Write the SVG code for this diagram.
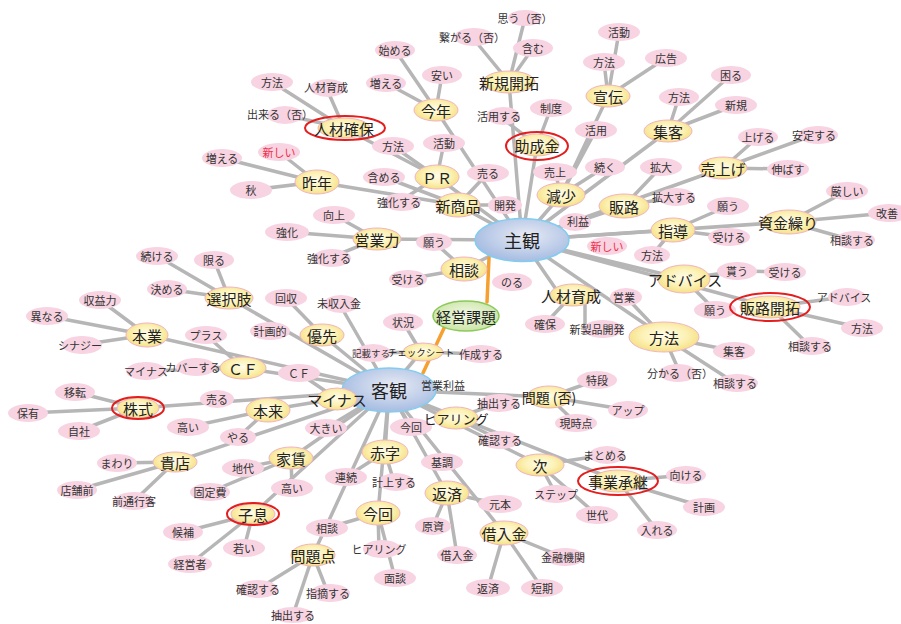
<svg xmlns="http://www.w3.org/2000/svg" width="901" height="624" viewBox="0 0 901 624">
<defs>
<radialGradient id="gy" cx="50%" cy="45%" r="60%"><stop offset="0" stop-color="#fffcea"/><stop offset="0.55" stop-color="#fcf1b4"/><stop offset="1" stop-color="#f4dc78"/></radialGradient>
<radialGradient id="gb" cx="55%" cy="40%" r="60%"><stop offset="0" stop-color="#e8ebf4"/><stop offset="1" stop-color="#a6bce2"/></radialGradient>
<radialGradient id="gg" cx="50%" cy="45%" r="60%"><stop offset="0" stop-color="#f2f9e6"/><stop offset="1" stop-color="#c6e3a0"/></radialGradient>
<style>
text{font-family:"Noto Sans CJK JP","Noto Sans CJK SC",sans-serif;text-anchor:middle;dominant-baseline:central;fill:#333}
#edges line{stroke:#b6b6b6;stroke-width:3.5;stroke-linecap:round}
#orange line{stroke:#f5a030;stroke-width:3.5;stroke-linecap:round}
.p ellipse{fill:#f8d3e2}
.p text{font-size:11px}
.y ellipse{fill:url(#gy);stroke:#f0b4c4;stroke-width:1}
.y text{font-size:15px;fill:#222}
.c ellipse{fill:url(#gb);stroke:#80cdf0;stroke-width:1.5}
.c text{font-size:18px;fill:#222}
.g ellipse{fill:url(#gg);stroke:#8cc85a;stroke-width:1.5}
.g text{font-size:15px;fill:#222}
.y ellipse.r{fill:none;stroke:#e41e1e;stroke-width:2}
.red{fill:#f0304a}
.s{font-size:9.5px!important}
</style>
</defs>
<rect width="901" height="624" fill="#ffffff"/>
<g id="edges">
<line x1="522" y1="240" x2="509" y2="82"/>
<line x1="522" y1="240" x2="537" y2="145"/>
<line x1="522" y1="240" x2="561" y2="195"/>
<line x1="522" y1="240" x2="668" y2="131"/>
<line x1="522" y1="240" x2="624" y2="206"/>
<line x1="522" y1="240" x2="723" y2="168"/>
<line x1="522" y1="240" x2="788" y2="222"/>
<line x1="522" y1="240" x2="673" y2="230"/>
<line x1="522" y1="240" x2="684" y2="279"/>
<line x1="522" y1="240" x2="770" y2="307"/>
<line x1="522" y1="240" x2="664" y2="337"/>
<line x1="522" y1="240" x2="560" y2="295"/>
<line x1="522" y1="240" x2="464" y2="269"/>
<line x1="522" y1="240" x2="377" y2="239"/>
<line x1="522" y1="240" x2="458" y2="205"/>
<line x1="522" y1="240" x2="437" y2="177"/>
<line x1="522" y1="240" x2="436" y2="110"/>
<line x1="608" y1="96" x2="561" y2="195"/>
<line x1="596" y1="130" x2="561" y2="195"/>
<line x1="555" y1="172" x2="561" y2="195"/>
<line x1="605" y1="167" x2="561" y2="195"/>
<line x1="509" y1="82" x2="472" y2="37"/>
<line x1="509" y1="82" x2="533" y2="48"/>
<line x1="509" y1="82" x2="525" y2="18"/>
<line x1="537" y1="145" x2="499" y2="116"/>
<line x1="537" y1="145" x2="551" y2="108"/>
<line x1="608" y1="96" x2="619" y2="32"/>
<line x1="608" y1="96" x2="604" y2="62"/>
<line x1="608" y1="96" x2="666" y2="58"/>
<line x1="668" y1="131" x2="679" y2="97"/>
<line x1="668" y1="131" x2="731" y2="75"/>
<line x1="668" y1="131" x2="736" y2="105"/>
<line x1="624" y1="206" x2="661" y2="167"/>
<line x1="624" y1="206" x2="674" y2="197"/>
<line x1="723" y1="168" x2="758" y2="137"/>
<line x1="723" y1="168" x2="814" y2="135"/>
<line x1="723" y1="168" x2="788" y2="169"/>
<line x1="673" y1="230" x2="728" y2="206"/>
<line x1="673" y1="230" x2="729" y2="237"/>
<line x1="673" y1="230" x2="652" y2="255"/>
<line x1="788" y1="222" x2="847" y2="191"/>
<line x1="788" y1="222" x2="888" y2="213"/>
<line x1="788" y1="222" x2="852" y2="240"/>
<line x1="684" y1="279" x2="737" y2="271"/>
<line x1="737" y1="271" x2="785" y2="272"/>
<line x1="684" y1="279" x2="715" y2="310"/>
<line x1="770" y1="307" x2="844" y2="297"/>
<line x1="770" y1="307" x2="862" y2="328"/>
<line x1="770" y1="307" x2="810" y2="346"/>
<line x1="664" y1="337" x2="626" y2="297"/>
<line x1="664" y1="337" x2="734" y2="351"/>
<line x1="664" y1="337" x2="680" y2="373"/>
<line x1="664" y1="337" x2="735" y2="383"/>
<line x1="572" y1="295" x2="545" y2="324"/>
<line x1="585" y1="295" x2="585" y2="329"/>
<line x1="464" y1="269" x2="434" y2="242"/>
<line x1="464" y1="269" x2="408" y2="279"/>
<line x1="377" y1="239" x2="334" y2="215"/>
<line x1="377" y1="239" x2="287" y2="232"/>
<line x1="377" y1="239" x2="329" y2="258"/>
<line x1="458" y1="205" x2="505" y2="205"/>
<line x1="458" y1="205" x2="488" y2="173"/>
<line x1="458" y1="205" x2="384" y2="177"/>
<line x1="458" y1="205" x2="317" y2="182"/>
<line x1="437" y1="177" x2="393" y2="146"/>
<line x1="437" y1="177" x2="444" y2="143"/>
<line x1="437" y1="177" x2="399" y2="202"/>
<line x1="437" y1="177" x2="344" y2="128"/>
<line x1="436" y1="110" x2="395" y2="50"/>
<line x1="436" y1="110" x2="386" y2="83"/>
<line x1="436" y1="110" x2="442" y2="75"/>
<line x1="344" y1="128" x2="272" y2="82"/>
<line x1="344" y1="128" x2="326" y2="87"/>
<line x1="344" y1="128" x2="280" y2="114"/>
<line x1="317" y1="182" x2="279" y2="152"/>
<line x1="317" y1="182" x2="222" y2="158"/>
<line x1="317" y1="182" x2="251" y2="190"/>
<line x1="389" y1="390" x2="322" y2="335"/>
<line x1="389" y1="390" x2="339" y2="303"/>
<line x1="389" y1="390" x2="229" y2="298"/>
<line x1="389" y1="390" x2="243" y2="368"/>
<line x1="389" y1="390" x2="147" y2="335"/>
<line x1="389" y1="390" x2="337" y2="399"/>
<line x1="389" y1="390" x2="138" y2="408"/>
<line x1="389" y1="390" x2="268" y2="410"/>
<line x1="389" y1="390" x2="175" y2="462"/>
<line x1="389" y1="390" x2="291" y2="458"/>
<line x1="389" y1="390" x2="253" y2="514"/>
<line x1="389" y1="390" x2="326" y2="428"/>
<line x1="389" y1="390" x2="385" y2="452"/>
<line x1="389" y1="390" x2="378" y2="513"/>
<line x1="389" y1="390" x2="313" y2="555"/>
<line x1="389" y1="390" x2="411" y2="427"/>
<line x1="389" y1="390" x2="447" y2="493"/>
<line x1="389" y1="390" x2="504" y2="533"/>
<line x1="389" y1="390" x2="456" y2="418"/>
<line x1="389" y1="390" x2="540" y2="465"/>
<line x1="389" y1="390" x2="618" y2="481"/>
<line x1="389" y1="390" x2="549" y2="397"/>
<line x1="389" y1="390" x2="421" y2="352"/>
<line x1="322" y1="335" x2="286" y2="298"/>
<line x1="229" y1="298" x2="157" y2="256"/>
<line x1="229" y1="298" x2="214" y2="260"/>
<line x1="229" y1="298" x2="167" y2="289"/>
<line x1="147" y1="335" x2="100" y2="300"/>
<line x1="147" y1="335" x2="47" y2="316"/>
<line x1="147" y1="335" x2="80" y2="345"/>
<line x1="243" y1="368" x2="206" y2="335"/>
<line x1="243" y1="368" x2="193" y2="367"/>
<line x1="243" y1="368" x2="146" y2="371"/>
<line x1="299" y1="373" x2="337" y2="399"/>
<line x1="138" y1="408" x2="75" y2="392"/>
<line x1="138" y1="408" x2="28" y2="413"/>
<line x1="138" y1="408" x2="79" y2="431"/>
<line x1="268" y1="410" x2="188" y2="427"/>
<line x1="268" y1="410" x2="238" y2="437"/>
<line x1="175" y1="462" x2="117" y2="463"/>
<line x1="175" y1="462" x2="77" y2="490"/>
<line x1="175" y1="462" x2="134" y2="501"/>
<line x1="291" y1="458" x2="243" y2="468"/>
<line x1="291" y1="458" x2="210" y2="492"/>
<line x1="291" y1="458" x2="292" y2="488"/>
<line x1="253" y1="514" x2="183" y2="532"/>
<line x1="253" y1="514" x2="244" y2="548"/>
<line x1="253" y1="514" x2="190" y2="564"/>
<line x1="385" y1="452" x2="346" y2="477"/>
<line x1="385" y1="452" x2="394" y2="482"/>
<line x1="378" y1="513" x2="327" y2="528"/>
<line x1="378" y1="513" x2="379" y2="549"/>
<line x1="378" y1="513" x2="395" y2="578"/>
<line x1="313" y1="555" x2="258" y2="589"/>
<line x1="313" y1="555" x2="328" y2="593"/>
<line x1="313" y1="555" x2="293" y2="615"/>
<line x1="447" y1="493" x2="500" y2="504"/>
<line x1="447" y1="493" x2="433" y2="526"/>
<line x1="447" y1="493" x2="457" y2="555"/>
<line x1="504" y1="533" x2="488" y2="588"/>
<line x1="504" y1="533" x2="542" y2="588"/>
<line x1="504" y1="533" x2="563" y2="557"/>
<line x1="456" y1="418" x2="500" y2="440"/>
<line x1="456" y1="418" x2="499" y2="403"/>
<line x1="540" y1="465" x2="605" y2="455"/>
<line x1="540" y1="465" x2="556" y2="494"/>
<line x1="540" y1="465" x2="597" y2="515"/>
<line x1="618" y1="481" x2="686" y2="475"/>
<line x1="618" y1="481" x2="704" y2="507"/>
<line x1="618" y1="481" x2="657" y2="530"/>
<line x1="549" y1="397" x2="597" y2="380"/>
<line x1="549" y1="397" x2="628" y2="410"/>
<line x1="549" y1="397" x2="576" y2="423"/>
<line x1="421" y1="352" x2="403" y2="322"/>
<line x1="421" y1="352" x2="371" y2="353"/>
<line x1="421" y1="352" x2="481" y2="354"/>
</g>
<g id="orange">
<line x1="489" y1="258" x2="487" y2="302"/>
<line x1="423" y1="373" x2="445" y2="326"/>
</g>
<g id="nodes">
<g id="n-shukan" class="c"><ellipse cx="522" cy="240" rx="47" ry="21.5"/><text x="522" y="240">主観</text></g>
<g id="n-kyakkan" class="c"><ellipse cx="389" cy="390" rx="47" ry="22"/><text x="389" y="390">客観</text></g>
<g id="n-keieikadai" class="g"><ellipse cx="466" cy="316" rx="33" ry="15"/><text x="466" y="316">経営課題</text></g>
<g id="n-eigyourieki"><text x="443" y="385" style="font-size:11px">営業利益</text></g>

<g id="n-omou" class="p"><ellipse cx="525" cy="18" rx="17" ry="8"/><text x="525" y="18">思う（否）</text></g>
<g id="n-tsunagaru" class="p"><ellipse cx="474" cy="37" rx="20" ry="9"/><text x="472" y="37">繋がる（否）</text></g>
<g id="n-fukumu" class="p"><ellipse cx="533" cy="48" rx="20" ry="9"/><text x="533" y="48">含む</text></g>
<g id="n-katsuyousuru" class="p"><ellipse cx="503" cy="116" rx="17" ry="9"/><text x="499" y="116">活用する</text></g>
<g id="n-seido" class="p"><ellipse cx="551" cy="108" rx="21" ry="9"/><text x="551" y="108">制度</text></g>
<g id="n-katsudou1" class="p"><ellipse cx="619" cy="32" rx="21" ry="9"/><text x="619" y="32">活動</text></g>
<g id="n-houhou1" class="p"><ellipse cx="604" cy="62" rx="21" ry="9"/><text x="604" y="62">方法</text></g>
<g id="n-koukoku" class="p"><ellipse cx="666" cy="58" rx="21" ry="9"/><text x="666" y="58">広告</text></g>
<g id="n-katsuyou" class="p"><ellipse cx="596" cy="130" rx="21" ry="9"/><text x="596" y="130">活用</text></g>
<g id="n-uriage" class="p"><ellipse cx="555" cy="172" rx="22" ry="9"/><text x="555" y="172">売上</text></g>
<g id="n-tsuduku" class="p"><ellipse cx="605" cy="167" rx="20" ry="9"/><text x="605" y="167">続く</text></g>
<g id="n-kakudai" class="p"><ellipse cx="661" cy="167" rx="21" ry="9"/><text x="661" y="167">拡大</text></g>
<g id="n-kakudaisuru" class="p"><ellipse cx="676" cy="197" rx="19" ry="9"/><text x="674" y="197">拡大する</text></g>
<g id="n-houhou2" class="p"><ellipse cx="679" cy="97" rx="20" ry="9"/><text x="679" y="97">方法</text></g>
<g id="n-komaru" class="p"><ellipse cx="731" cy="75" rx="20" ry="9"/><text x="731" y="75">困る</text></g>
<g id="n-shinki" class="p"><ellipse cx="736" cy="105" rx="21" ry="9"/><text x="736" y="105">新規</text></g>
<g id="n-ageru" class="p"><ellipse cx="758" cy="137" rx="20" ry="9"/><text x="758" y="137">上げる</text></g>
<g id="n-antei" class="p"><ellipse cx="818" cy="135" rx="20" ry="9"/><text x="814" y="135">安定する</text></g>
<g id="n-nobasu" class="p"><ellipse cx="788" cy="169" rx="21" ry="9"/><text x="788" y="169">伸ばす</text></g>
<g id="n-kibishii" class="p"><ellipse cx="847" cy="191" rx="21" ry="9"/><text x="847" y="191">厳しい</text></g>
<g id="n-negau1" class="p"><ellipse cx="728" cy="206" rx="21" ry="9"/><text x="728" y="206">願う</text></g>
<g id="n-kaizen" class="p"><ellipse cx="889" cy="213" rx="21" ry="9"/><text x="887" y="213">改善</text></g>
<g id="n-soudansuru1" class="p"><ellipse cx="855" cy="240" rx="20" ry="9"/><text x="852" y="240">相談する</text></g>
<g id="n-ukeru1" class="p"><ellipse cx="729" cy="237" rx="21" ry="9"/><text x="729" y="237">受ける</text></g>
<g id="n-houhou3" class="p"><ellipse cx="652" cy="255" rx="18" ry="9"/><text x="652" y="255">方法</text></g>
<g id="n-atarashii1" class="p"><ellipse cx="607" cy="246" rx="20" ry="9"/><text class="red" x="607" y="246">新しい</text></g>
<g id="n-rieki" class="p"><ellipse cx="575" cy="222" rx="16" ry="9"/><text x="578" y="221">利益</text></g>
<g id="n-morau" class="p"><ellipse cx="737" cy="271" rx="20" ry="9"/><text x="737" y="271">貰う</text></g>
<g id="n-ukeru2" class="p"><ellipse cx="785" cy="272" rx="21" ry="9"/><text x="785" y="272">受ける</text></g>
<g id="n-negau2" class="p"><ellipse cx="715" cy="310" rx="21" ry="9"/><text x="715" y="310">願う</text></g>
<g id="n-advice2" class="p"><ellipse cx="847" cy="297" rx="19" ry="9"/><text x="844" y="297">アドバイス</text></g>
<g id="n-houhou4" class="p"><ellipse cx="862" cy="328" rx="21" ry="9"/><text x="862" y="328">方法</text></g>
<g id="n-soudansuru2" class="p"><ellipse cx="812" cy="346" rx="19" ry="9"/><text x="810" y="346">相談する</text></g>
<g id="n-eigyou" class="p"><ellipse cx="626" cy="297" rx="16" ry="9"/><text x="624" y="297">営業</text></g>
<g id="n-shukyaku2" class="p"><ellipse cx="734" cy="351" rx="21" ry="9"/><text x="734" y="351">集客</text></g>
<g id="n-wakaru" class="p"><ellipse cx="678" cy="373" rx="19" ry="9"/><text x="680" y="373">分かる（否）</text></g>
<g id="n-soudansuru3" class="p"><ellipse cx="737" cy="383" rx="21" ry="9"/><text x="735" y="383">相談する</text></g>
<g id="n-kakuho" class="p"><ellipse cx="545" cy="324" rx="20" ry="9"/><text x="545" y="324">確保</text></g>
<g id="n-shinseihin" class="p"><ellipse cx="603" cy="329" rx="20" ry="9"/><text x="597" y="329">新製品開発</text></g>
<g id="n-noru" class="p"><ellipse cx="512" cy="282" rx="20" ry="9"/><text x="512" y="282">のる</text></g>
<g id="n-ukeru3" class="p"><ellipse cx="408" cy="279" rx="19" ry="9"/><text x="408" y="279">受ける</text></g>
<g id="n-negau3" class="p"><ellipse cx="434" cy="242" rx="18" ry="9"/><text x="434" y="242">願う</text></g>
<g id="n-koujou" class="p"><ellipse cx="334" cy="215" rx="21" ry="9"/><text x="334" y="215">向上</text></g>
<g id="n-kyouka" class="p"><ellipse cx="287" cy="232" rx="22" ry="9"/><text x="287" y="232">強化</text></g>
<g id="n-kyoukasuru1" class="p"><ellipse cx="332" cy="258" rx="19" ry="9"/><text x="329" y="258">強化する</text></g>
<g id="n-kyoukasuru2" class="p"><ellipse cx="402" cy="202" rx="19" ry="9"/><text x="399" y="202">強化する</text></g>
<g id="n-kaihatsu" class="p"><ellipse cx="505" cy="205" rx="17" ry="9"/><text x="505" y="205">開発</text></g>
<g id="n-uru1" class="p"><ellipse cx="488" cy="173" rx="21" ry="9"/><text x="488" y="173">売る</text></g>
<g id="n-fukumeru" class="p"><ellipse cx="384" cy="177" rx="21" ry="9"/><text x="384" y="177">含める</text></g>
<g id="n-houhou5" class="p"><ellipse cx="393" cy="146" rx="21" ry="9"/><text x="393" y="146">方法</text></g>
<g id="n-katsudou2" class="p"><ellipse cx="444" cy="143" rx="21" ry="9"/><text x="444" y="143">活動</text></g>
<g id="n-fueru1" class="p"><ellipse cx="386" cy="83" rx="20" ry="9"/><text x="386" y="83">増える</text></g>
<g id="n-yasui" class="p"><ellipse cx="442" cy="75" rx="20" ry="9"/><text x="442" y="75">安い</text></g>
<g id="n-hajimeru" class="p"><ellipse cx="395" cy="50" rx="20" ry="9"/><text x="395" y="50">始める</text></g>
<g id="n-houhou6" class="p"><ellipse cx="272" cy="82" rx="21" ry="9"/><text x="272" y="82">方法</text></g>
<g id="n-jinzaiikusei2" class="p"><ellipse cx="328" cy="88" rx="18" ry="9"/><text x="326" y="87">人材育成</text></g>
<g id="n-dekiru" class="p"><ellipse cx="285" cy="115" rx="18" ry="9"/><text x="280" y="114">出来る（否）</text></g>
<g id="n-atarashii2" class="p"><ellipse cx="279" cy="152" rx="21" ry="9"/><text class="red" x="279" y="152">新しい</text></g>
<g id="n-fueru2" class="p"><ellipse cx="222" cy="158" rx="20" ry="9"/><text x="222" y="158">増える</text></g>
<g id="n-aki" class="p"><ellipse cx="251" cy="190" rx="21" ry="9"/><text x="251" y="190">秋</text></g>
<g id="n-tsudukeru" class="p"><ellipse cx="157" cy="256" rx="21" ry="9"/><text x="157" y="256">続ける</text></g>
<g id="n-kagiru" class="p"><ellipse cx="214" cy="260" rx="20" ry="9"/><text x="214" y="260">限る</text></g>
<g id="n-kimeru" class="p"><ellipse cx="167" cy="289" rx="20" ry="9"/><text x="167" y="289">決める</text></g>
<g id="n-shuuekiryoku" class="p"><ellipse cx="100" cy="300" rx="21" ry="9"/><text x="100" y="300">収益力</text></g>
<g id="n-kotonaru" class="p"><ellipse cx="47" cy="316" rx="21" ry="9"/><text x="47" y="316">異なる</text></g>
<g id="n-synergy" class="p"><ellipse cx="82" cy="345" rx="20" ry="9"/><text x="80" y="345">シナジー</text></g>
<g id="n-plus" class="p"><ellipse cx="206" cy="335" rx="21" ry="9"/><text x="206" y="335">プラス</text></g>
<g id="n-minus2" class="p"><ellipse cx="146" cy="371" rx="20" ry="9"/><text x="146" y="371">マイナス</text></g>
<g id="n-cover" class="p"><ellipse cx="196" cy="367" rx="20" ry="9"/><text x="193" y="367">カバーする</text></g>
<g id="n-kaishuu" class="p"><ellipse cx="286" cy="298" rx="21" ry="9"/><text x="286" y="298">回収</text></g>
<g id="n-mishuu" class="p"><ellipse cx="341" cy="304" rx="18" ry="9"/><text x="339" y="303">未収入金</text></g>
<g id="n-keikakuteki" class="p"><ellipse cx="270" cy="331" rx="20" ry="9"/><text x="270" y="331">計画的</text></g>
<g id="n-joukyou" class="p"><ellipse cx="403" cy="322" rx="20" ry="9"/><text x="403" y="322">状況</text></g>
<g id="n-kisai" class="p"><ellipse cx="373" cy="353" rx="18" ry="9"/><text class="s" x="371" y="353">記載する</text></g>
<g id="n-sakusei" class="p"><ellipse cx="481" cy="354" rx="21" ry="9"/><text x="481" y="354">作成する</text></g>
<g id="n-cf2" class="p"><ellipse cx="299" cy="373" rx="21" ry="9"/><text x="299" y="373">ＣＦ</text></g>
<g id="n-tokudan" class="p"><ellipse cx="597" cy="380" rx="20" ry="9"/><text x="597" y="380">特段</text></g>
<g id="n-chuushutsu1" class="p"><ellipse cx="499" cy="403" rx="20" ry="9"/><text x="499" y="403">抽出する</text></g>
<g id="n-up" class="p"><ellipse cx="628" cy="410" rx="20" ry="9"/><text x="628" y="410">アップ</text></g>
<g id="n-genjiten" class="p"><ellipse cx="576" cy="423" rx="21" ry="9"/><text x="576" y="423">現時点</text></g>
<g id="n-konkai2" class="p"><ellipse cx="411" cy="427" rx="21" ry="9"/><text x="411" y="427">今回</text></g>
<g id="n-kakunin1" class="p"><ellipse cx="500" cy="440" rx="20" ry="9"/><text x="500" y="440">確認する</text></g>
<g id="n-ookii" class="p"><ellipse cx="326" cy="428" rx="21" ry="9"/><text x="326" y="428">大きい</text></g>
<g id="n-uru2" class="p"><ellipse cx="217" cy="399" rx="17" ry="9"/><text x="217" y="399">売る</text></g>
<g id="n-takai1" class="p"><ellipse cx="188" cy="427" rx="21" ry="9"/><text x="188" y="427">高い</text></g>
<g id="n-yaru" class="p"><ellipse cx="238" cy="437" rx="18" ry="9"/><text x="238" y="437">やる</text></g>
<g id="n-iten" class="p"><ellipse cx="75" cy="392" rx="20" ry="9"/><text x="75" y="392">移転</text></g>
<g id="n-hoyuu" class="p"><ellipse cx="28" cy="413" rx="20" ry="9"/><text x="28" y="413">保有</text></g>
<g id="n-jisha" class="p"><ellipse cx="79" cy="431" rx="21" ry="9"/><text x="79" y="431">自社</text></g>
<g id="n-mawari" class="p"><ellipse cx="117" cy="463" rx="20" ry="9"/><text x="117" y="463">まわり</text></g>
<g id="n-tenpomae" class="p"><ellipse cx="77" cy="490" rx="20" ry="9"/><text x="77" y="490">店舗前</text></g>
<g id="n-maedoori" class="p"><ellipse cx="134" cy="501" rx="20" ry="9"/><text x="134" y="501">前通行客</text></g>
<g id="n-chidai" class="p"><ellipse cx="243" cy="468" rx="21" ry="9"/><text x="243" y="468">地代</text></g>
<g id="n-koteihi" class="p"><ellipse cx="210" cy="492" rx="20" ry="9"/><text x="210" y="492">固定費</text></g>
<g id="n-takai2" class="p"><ellipse cx="292" cy="488" rx="21" ry="9"/><text x="292" y="488">高い</text></g>
<g id="n-kouho" class="p"><ellipse cx="183" cy="532" rx="20" ry="9"/><text x="183" y="532">候補</text></g>
<g id="n-wakai" class="p"><ellipse cx="244" cy="548" rx="21" ry="9"/><text x="244" y="548">若い</text></g>
<g id="n-keieisha" class="p"><ellipse cx="190" cy="564" rx="22" ry="9"/><text x="190" y="564">経営者</text></g>
<g id="n-renzoku" class="p"><ellipse cx="346" cy="477" rx="21" ry="9"/><text x="346" y="477">連続</text></g>
<g id="n-keijou" class="p"><ellipse cx="396" cy="482" rx="18" ry="9"/><text x="394" y="482">計上する</text></g>
<g id="n-kichou" class="p"><ellipse cx="442" cy="462" rx="21" ry="9"/><text x="442" y="462">基調</text></g>
<g id="n-ganpon" class="p"><ellipse cx="500" cy="504" rx="22" ry="9"/><text x="500" y="504">元本</text></g>
<g id="n-soudan2" class="p"><ellipse cx="327" cy="528" rx="21" ry="9"/><text x="327" y="528">相談</text></g>
<g id="n-hearing2" class="p"><ellipse cx="382" cy="549" rx="19" ry="9"/><text x="379" y="549">ヒアリング</text></g>
<g id="n-genshi" class="p"><ellipse cx="433" cy="526" rx="18" ry="9"/><text x="433" y="526">原資</text></g>
<g id="n-kariire2" class="p"><ellipse cx="457" cy="555" rx="20" ry="9"/><text x="457" y="555">借入金</text></g>
<g id="n-kinyuu" class="p"><ellipse cx="565" cy="557" rx="20" ry="9"/><text x="563" y="557">金融機関</text></g>
<g id="n-hensai2" class="p"><ellipse cx="488" cy="588" rx="22" ry="9"/><text x="488" y="588">返済</text></g>
<g id="n-tanki" class="p"><ellipse cx="542" cy="588" rx="21" ry="9"/><text x="542" y="588">短期</text></g>
<g id="n-mendan" class="p"><ellipse cx="395" cy="578" rx="21" ry="9"/><text x="395" y="578">面談</text></g>
<g id="n-kakunin2" class="p"><ellipse cx="258" cy="589" rx="20" ry="9"/><text x="258" y="589">確認する</text></g>
<g id="n-shiteki" class="p"><ellipse cx="330" cy="593" rx="20" ry="9"/><text x="328" y="593">指摘する</text></g>
<g id="n-chuushutsu2" class="p"><ellipse cx="293" cy="615" rx="20" ry="8"/><text x="293" y="615">抽出する</text></g>
<g id="n-matomeru" class="p"><ellipse cx="607" cy="455" rx="18" ry="9"/><text x="605" y="455">まとめる</text></g>
<g id="n-step" class="p"><ellipse cx="556" cy="494" rx="20" ry="9"/><text x="556" y="494">ステップ</text></g>
<g id="n-sedai" class="p"><ellipse cx="597" cy="515" rx="21" ry="9"/><text x="597" y="515">世代</text></g>
<g id="n-mukeru" class="p"><ellipse cx="686" cy="475" rx="20" ry="9"/><text x="686" y="475">向ける</text></g>
<g id="n-keikaku" class="p"><ellipse cx="704" cy="507" rx="21" ry="9"/><text x="704" y="507">計画</text></g>
<g id="n-ireru" class="p"><ellipse cx="657" cy="530" rx="20" ry="9"/><text x="657" y="530">入れる</text></g>

<g id="n-shinkikaitaku" class="y"><ellipse cx="509" cy="82" rx="26" ry="11"/><text x="509" y="82">新規開拓</text></g>
<g id="n-joseikin" class="y"><ellipse cx="537" cy="145" rx="22" ry="11"/><ellipse class="r" cx="537" cy="146" rx="31" ry="14"/><text x="537" y="145">助成金</text></g>
<g id="n-senden" class="y"><ellipse cx="608" cy="96" rx="22" ry="11"/><text x="608" y="96">宣伝</text></g>
<g id="n-genshou" class="y"><ellipse cx="561" cy="195" rx="24" ry="12"/><text x="561" y="195">減少</text></g>
<g id="n-shukyaku" class="y"><ellipse cx="668" cy="131" rx="24" ry="11"/><text x="668" y="131">集客</text></g>
<g id="n-hanro" class="y"><ellipse cx="624" cy="206" rx="25" ry="12"/><text x="624" y="206">販路</text></g>
<g id="n-uriage2" class="y"><ellipse cx="723" cy="168" rx="24" ry="11"/><text x="723" y="168">売上げ</text></g>
<g id="n-shikinguri" class="y"><ellipse cx="789" cy="222" rx="27" ry="12"/><text x="788" y="222">資金繰り</text></g>
<g id="n-shidou" class="y"><ellipse cx="673" cy="230" rx="22" ry="12"/><text x="673" y="230">指導</text></g>
<g id="n-advice" class="y"><ellipse cx="684" cy="279" rx="26" ry="14"/><text x="685" y="279">アドバイス</text></g>
<g id="n-hanrokaitaku" class="y"><ellipse cx="770" cy="307" rx="30" ry="11"/><ellipse class="r" cx="770" cy="307" rx="40" ry="14"/><text x="770" y="307">販路開拓</text></g>
<g id="n-houhouY" class="y"><ellipse cx="664" cy="337" rx="35" ry="15"/><text x="664" y="337">方法</text></g>
<g id="n-jinzaiikusei" class="y"><ellipse cx="573" cy="295" rx="23" ry="11"/><text x="571" y="295">人材育成</text></g>
<g id="n-soudan" class="y"><ellipse cx="464" cy="269" rx="23" ry="12"/><text x="464" y="269">相談</text></g>
<g id="n-eigyouryoku" class="y"><ellipse cx="377" cy="239" rx="24" ry="11"/><text x="377" y="239">営業力</text></g>
<g id="n-shinshouhin" class="y"><ellipse cx="458" cy="205" rx="22" ry="12"/><text x="458" y="205">新商品</text></g>
<g id="n-pr" class="y"><ellipse cx="437" cy="177" rx="22" ry="12"/><text x="437" y="177">ＰＲ</text></g>
<g id="n-kotoshi" class="y"><ellipse cx="436" cy="110" rx="22" ry="11"/><text x="436" y="110">今年</text></g>
<g id="n-jinzaikakuho" class="y"><ellipse cx="344" cy="128" rx="26" ry="10"/><ellipse class="r" cx="345" cy="128" rx="40" ry="12"/><text x="344" y="128">人材確保</text></g>
<g id="n-sakunen" class="y"><ellipse cx="317" cy="182" rx="22" ry="12"/><text x="317" y="182">昨年</text></g>
<g id="n-sentakushi" class="y"><ellipse cx="229" cy="298" rx="24" ry="11"/><text x="229" y="298">選択肢</text></g>
<g id="n-hongyou" class="y"><ellipse cx="147" cy="335" rx="21" ry="12"/><text x="147" y="335">本業</text></g>
<g id="n-cf" class="y"><ellipse cx="243" cy="368" rx="23" ry="11"/><text x="243" y="368">ＣＦ</text></g>
<g id="n-yuusen" class="y"><ellipse cx="322" cy="335" rx="22" ry="11"/><text x="322" y="335">優先</text></g>
<g id="n-check" class="y"><ellipse cx="423" cy="352" rx="20" ry="9"/><text class="s" x="421" y="352">チェックシート</text></g>
<g id="n-minus" class="y"><ellipse cx="337" cy="399" rx="20" ry="11"/><text x="337" y="399">マイナス</text></g>
<g id="n-mondai" class="y"><ellipse cx="549" cy="397" rx="22" ry="11"/><text x="549" y="397" style="font-size:14px">問題 (否)</text></g>
<g id="n-hearing" class="y"><ellipse cx="456" cy="418" rx="22" ry="11"/><text x="456" y="418" style="font-size:13px">ヒアリング</text></g>
<g id="n-honrai" class="y"><ellipse cx="268" cy="410" rx="22" ry="12"/><text x="268" y="410">本来</text></g>
<g id="n-kabushiki" class="y"><ellipse cx="138" cy="408" rx="21" ry="10"/><ellipse class="r" cx="138" cy="408" rx="26" ry="11"/><text x="138" y="408">株式</text></g>
<g id="n-kiten" class="y"><ellipse cx="175" cy="462" rx="22" ry="10"/><text x="175" y="462">貴店</text></g>
<g id="n-yachin" class="y"><ellipse cx="291" cy="458" rx="22" ry="11"/><text x="291" y="458">家賃</text></g>
<g id="n-shisoku" class="y"><ellipse cx="253" cy="514" rx="22" ry="10"/><ellipse class="r" cx="253" cy="514" rx="26" ry="11"/><text x="253" y="514">子息</text></g>
<g id="n-akaji" class="y"><ellipse cx="385" cy="452" rx="23" ry="12"/><text x="385" y="452">赤字</text></g>
<g id="n-hensai" class="y"><ellipse cx="447" cy="493" rx="22" ry="12"/><text x="447" y="493">返済</text></g>
<g id="n-konkai" class="y"><ellipse cx="378" cy="513" rx="22" ry="12"/><text x="378" y="513">今回</text></g>
<g id="n-mondaiten" class="y"><ellipse cx="313" cy="555" rx="22" ry="11"/><text x="313" y="555">問題点</text></g>
<g id="n-kariire" class="y"><ellipse cx="504" cy="533" rx="24" ry="12"/><text x="504" y="533">借入金</text></g>
<g id="n-tsugi" class="y"><ellipse cx="540" cy="465" rx="24" ry="11"/><text x="540" y="465">次</text></g>
<g id="n-jigyoushoukei" class="y"><ellipse cx="618" cy="481" rx="26" ry="11"/><ellipse class="r" cx="618" cy="481" rx="40" ry="14"/><text x="618" y="481">事業承継</text></g>
</g>
</svg>
